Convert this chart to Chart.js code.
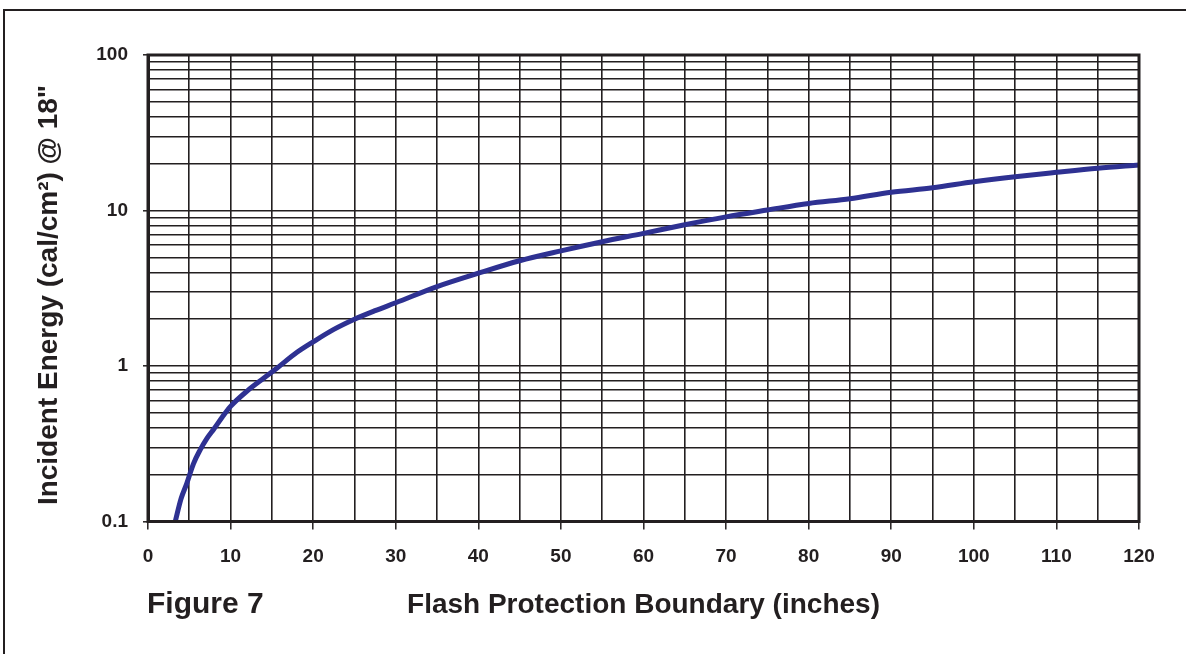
<!DOCTYPE html>
<html>
<head>
<meta charset="utf-8">
<script src="https://cdn.jsdelivr.net/npm/chart.js@4/dist/chart.umd.min.js"></script>
<style>
html,body{margin:0;padding:0;background:#fff;}
#wrap{width:1186px;height:654px;position:relative;}
</style>
</head>
<body>
<div id="wrap"><canvas id="c" width="1186" height="654"></canvas></div>
<script>
// Data
const boundaryInches = [3.3, 4.0, 4.7, 5.5, 6.3, 7.1, 8, 9, 10, 12, 14, 15.6, 18, 20, 22.5, 25, 27.5, 30, 35, 40, 45, 50, 55, 60, 65, 70, 75, 80, 85, 90, 95, 100, 105, 110, 115, 120];
const incidentEnergy = [0.1, 0.14, 0.176, 0.235, 0.288, 0.34, 0.395, 0.47, 0.55, 0.69, 0.834, 0.967, 1.22, 1.43, 1.72, 2.0, 2.27, 2.55, 3.24, 3.95, 4.75, 5.5, 6.3, 7.13, 8.1, 9.1, 10.07, 11.1, 11.9, 13.1, 14.0, 15.3, 16.5, 17.6, 18.7, 19.6];
const yMajorTicks = [0.1, 1, 10, 100];
const yTickValues = [0.1,0.2,0.3,0.4,0.5,0.6,0.7,0.8,0.9,1,2,3,4,5,6,7,8,9,10,20,30,40,50,60,70,80,90,100];
const xMin = 0, xMax = 120, xGridStep = 5, xLabelStep = 10;
const yTitle = 'Incident Energy (cal/cm\u00B2) @ 18"';
const xTitle = 'Flash Protection Boundary (inches)';
const figureLabel = 'Figure 7';

const INK = '#231f20';
const FONT = '"Liberation Sans", Arial, Helvetica, sans-serif';

const points = boundaryInches.map((x, i) => ({x: x, y: incidentEnergy[i]}));
const isMajor = v => yMajorTicks.some(m => Math.abs(m - v) < 1e-9);

const decor = {
  id: 'decor',
  beforeDraw(chart) {
    const c = chart.ctx;
    c.save();
    c.fillStyle = '#fff';
    c.fillRect(0, 0, chart.width, chart.height);
    c.strokeStyle = INK;
    c.lineWidth = 2;
    c.beginPath();
    c.moveTo(4, 654);
    c.lineTo(4, 10);
    c.lineTo(1186, 10);
    c.stroke();
    c.restore();
  },
  afterDraw(chart) {
    const c = chart.ctx;
    const a = chart.chartArea;
    c.save();
    c.strokeStyle = INK;
    c.lineWidth = 3;
    c.strokeRect(a.left, a.top, a.right - a.left, a.bottom - a.top);
    c.fillStyle = INK;
    // y title
    c.save();
    c.translate(57, 295);
    c.rotate(-Math.PI / 2);
    c.font = 'bold 28px ' + FONT;
    c.textAlign = 'center';
    c.textBaseline = 'alphabetic';
    c.fillText(yTitle, 0, 0);
    c.restore();
    // x title
    c.font = 'bold 28px ' + FONT;
    c.textAlign = 'center';
    c.textBaseline = 'alphabetic';
    c.fillText(xTitle, (a.left + a.right) / 2, 613);
    // figure label
    c.font = 'bold 30px ' + FONT;
    c.textAlign = 'left';
    c.fillText(figureLabel, 147, 613);
    c.restore();
  }
};

new Chart(document.getElementById('c'), {
  type: 'line',
  data: {
    datasets: [{
      data: points,
      borderColor: '#2e3192',
      borderWidth: 5,
      pointRadius: 0,
      fill: false,
      cubicInterpolationMode: 'monotone'
    }]
  },
  options: {
    responsive: false,
    animation: false,
    events: [],
    layout: {padding: {left: 0, top: 55, right: 47, bottom: 0}},
    plugins: {legend: {display: false}, tooltip: {enabled: false}, title: {display: false}},
    scales: {
      x: {
        type: 'linear',
        min: xMin, max: xMax,
        afterFit: s => { s.height = 132.5; },
        border: {color: INK, width: 3},
        grid: {
          color: INK, lineWidth: 1.6, drawTicks: true, tickLength: 8,
          tickColor: ctx => (ctx.tick && ctx.tick.value % xLabelStep === 0) ? INK : 'rgba(0,0,0,0)',
          tickWidth: 1.5
        },
        ticks: {
          stepSize: xGridStep, autoSkip: false, maxRotation: 0, padding: 16,
          color: INK, font: {family: FONT, size: 19, weight: 'bold'},
          callback: v => (v % xLabelStep === 0 ? String(v) : '')
        }
      },
      y: {
        type: 'logarithmic',
        min: 0.1, max: 100,
        afterFit: s => { s.width = 148; },
        afterBuildTicks: s => { s.ticks = yTickValues.map(v => ({value: v, major: isMajor(v)})); },
        border: {color: INK, width: 3},
        grid: {
          color: INK, lineWidth: 1.6, drawTicks: true, tickLength: 5,
          tickColor: ctx => (ctx.tick && isMajor(ctx.tick.value)) ? INK : 'rgba(0,0,0,0)',
          tickWidth: 1.5
        },
        ticks: {
          autoSkip: false, padding: 15,
          color: INK, font: {family: FONT, size: 19, weight: 'bold'},
          callback: v => (isMajor(v) ? String(v) : '')
        }
      }
    }
  },
  plugins: [decor]
});
</script>
</body>
</html>
